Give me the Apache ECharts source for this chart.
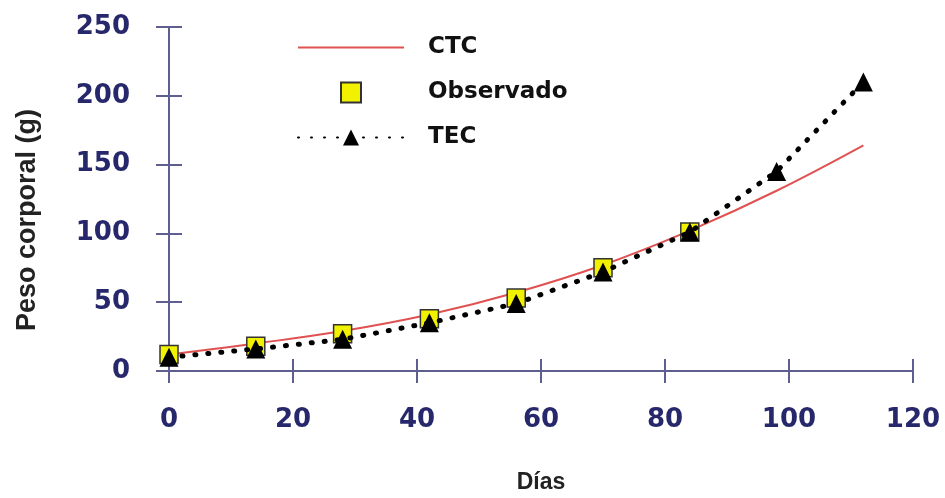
<!DOCTYPE html>
<html>
<head>
<meta charset="utf-8">
<script src="https://cdn.jsdelivr.net/npm/echarts@6/dist/echarts.min.js"></script>
<style>
  html, body { margin: 0; padding: 0; background: #ffffff; }
  #chart { width: 945px; height: 498px; }
</style>
</head>
<body>
<div id="chart"></div>
<script>
// Body weight (g) over days: fitted curve (CTC), observed weights, and TEC model
const ctcDays   = [0, 14, 28, 42, 56, 70, 84, 98, 112];
const ctcValues = [12, 20, 29, 41, 57, 77, 102, 131, 164];

const obsDays   = [0, 14, 28, 42, 56, 70, 84];
const obsValues = [12, 18, 27, 38, 53, 75, 101];

const tecDays   = [0, 14, 28, 42, 56, 70, 84, 98, 112];
const tecValues = [10, 16, 23, 35, 49, 72, 101, 145, 210];

const xTicks = [0, 20, 40, 60, 80, 100, 120];
const yTicks = [0, 50, 100, 150, 200, 250];

const pairs = (xs, ys) => xs.map((x, i) => [x, ys[i]]);

const axisColor = '#5e5e90';
const labelColor = '#27276b';
const plotBox = { left: 169, right: 32, top: 27, bottom: 127, containLabel: false, outerBoundsMode: 'none' };

const xMin = xTicks[0], xMax = xTicks[xTicks.length - 1];
const yMin = yTicks[0], yMax = yTicks[yTicks.length - 1];
const tickStyle = { color: axisColor, width: 2 };

const chart = echarts.init(document.getElementById('chart'), null, { renderer: 'canvas' });

chart.setOption({
  backgroundColor: '#ffffff',
  animation: false,
  // second grid shares the plot box; its axes add the inner half of the crossing ticks
  grid: [Object.assign({}, plotBox), Object.assign({}, plotBox)],
  legend: {
    orient: 'vertical',
    left: 297,
    top: 36,
    padding: 0,
    itemWidth: 106,
    itemHeight: 20,
    itemGap: 22,
    textStyle: {
      fontFamily: 'DejaVu Sans',
      fontWeight: 'bold',
      fontSize: 23,
      color: '#111111',
      lineHeight: 20,
      padding: [0, 0, 0, 19]
    },
    data: [
      { name: 'CTC', itemStyle: { color: 'rgba(0,0,0,0)', borderWidth: 0 } },
      { name: 'Observado', icon: 'path://M0 0H10V10H0Z', symbolKeepAspect: true },
      { name: 'TEC' }
    ]
  },
  xAxis: [
    {
      gridIndex: 0,
      type: 'value',
      min: xMin, max: xMax, interval: 20,
      name: 'Días',
      nameLocation: 'middle',
      nameGap: 100,
      nameTextStyle: { fontFamily: 'Liberation Sans', fontWeight: 'bold', fontSize: 23, color: '#222222' },
      axisLine: { show: true, lineStyle: { color: axisColor, width: 2 } },
      axisTick: { show: true, inside: false, length: 12, lineStyle: tickStyle },
      axisLabel: {
        margin: 36,
        fontFamily: 'DejaVu Sans', fontWeight: 'bold', fontSize: 26, color: labelColor
      },
      splitLine: { show: false }
    },
    {
      gridIndex: 1,
      type: 'value',
      min: xMin, max: xMax, interval: 20,
      axisLine: { show: false },
      axisTick: { show: true, inside: true, length: 12, lineStyle: tickStyle },
      axisLabel: { show: false },
      splitLine: { show: false }
    }
  ],
  yAxis: [
    {
      gridIndex: 0,
      type: 'value',
      min: yMin, max: yMax, interval: 50,
      axisLine: { show: true, lineStyle: { color: axisColor, width: 2 } },
      axisTick: { show: true, inside: false, length: 13, lineStyle: tickStyle },
      axisLabel: {
        margin: 39,
        fontFamily: 'DejaVu Sans', fontWeight: 'bold', fontSize: 26, color: labelColor
      },
      splitLine: { show: false }
    },
    {
      gridIndex: 1,
      type: 'value',
      min: yMin, max: yMax, interval: 50,
      axisLine: { show: false },
      axisTick: { show: true, inside: true, length: 13, lineStyle: tickStyle },
      axisLabel: { show: false },
      splitLine: { show: false }
    }
  ],
  graphic: [
    {
      type: 'text',
      x: 28, y: 220,
      rotation: Math.PI / 2,
      style: {
        text: 'Peso corporal (g)',
        x: 0, y: 0,
        align: 'center',
        verticalAlign: 'middle',
        fontFamily: 'Liberation Sans',
        fontWeight: 'bold',
        fontSize: 27,
        fill: '#222222'
      }
    }
  ],
  series: [
    {
      name: 'CTC',
      type: 'line',
      xAxisIndex: 0, yAxisIndex: 0,
      data: pairs(ctcDays, ctcValues),
      smooth: 0.4,
      symbol: 'none',
      lineStyle: { color: '#e05252', width: 2 },
      itemStyle: { color: '#e05252' },
      z: 2
    },
    {
      name: 'Observado',
      type: 'scatter',
      xAxisIndex: 0, yAxisIndex: 0,
      data: pairs(obsDays, obsValues),
      symbol: 'rect',
      symbolSize: 18,
      itemStyle: { color: '#f2f200', borderColor: '#333333', borderWidth: 1.5, opacity: 1 },
      z: 3
    },
    {
      name: 'TEC',
      type: 'line',
      xAxisIndex: 0, yAxisIndex: 0,
      data: pairs(tecDays, tecValues),
      symbol: 'triangle',
      symbolSize: 19,
      showSymbol: true,
      lineStyle: { color: '#000000', width: 5, type: [1, 12], cap: 'round' },
      itemStyle: { color: '#000000' },
      z: 4
    }
  ]
});
</script>
</body>
</html>
